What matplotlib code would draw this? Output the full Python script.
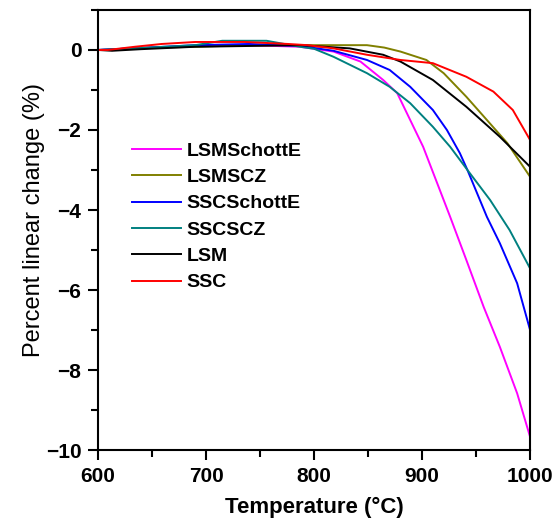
import matplotlib
matplotlib.use("Agg")
import matplotlib.pyplot as plt
from matplotlib.ticker import MultipleLocator

plt.rcParams["font.family"] = ["Liberation Sans", "DejaVu Sans"]

# temperature (°C) / linear change (%)
lsm_schott_t = [600, 640, 690, 740, 787, 818, 843, 864, 877, 889, 901, 910, 926, 941, 957, 972, 988, 1000]
lsm_schott_v = [0.0, 0.05, 0.1, 0.12, 0.08, -0.04, -0.29, -0.75, -1.08, -1.75, -2.42, -3.05, -4.17, -5.25, -6.42, -7.42, -8.58, -9.67]

lsm_scz_t = [600, 640, 690, 740, 787, 849, 865, 880, 904, 920, 941, 960, 979, 1000]
lsm_scz_v = [0.0, 0.05, 0.08, 0.12, 0.12, 0.12, 0.06, -0.04, -0.25, -0.58, -1.17, -1.75, -2.33, -3.17]

ssc_schott_t = [600, 640, 690, 740, 787, 818, 849, 870, 889, 910, 923, 935, 942, 960, 972, 988, 1000]
ssc_schott_v = [0.0, 0.05, 0.12, 0.15, 0.1, -0.02, -0.25, -0.5, -0.92, -1.5, -2.0, -2.58, -3.0, -4.17, -4.83, -5.83, -7.0]

ssc_scz_t = [600, 640, 690, 715, 756, 787, 800, 818, 849, 870, 889, 910, 926, 942, 963, 981, 1000]
ssc_scz_v = [0.0, 0.05, 0.12, 0.23, 0.23, 0.08, 0.03, -0.17, -0.58, -0.92, -1.33, -1.92, -2.42, -3.0, -3.75, -4.5, -5.46]

lsm_t = [600, 613, 640, 690, 740, 787, 833, 864, 880, 910, 941, 972, 1000]
lsm_v = [0.0, -0.02, 0.02, 0.08, 0.1, 0.12, 0.04, -0.12, -0.29, -0.75, -1.42, -2.17, -2.92]

ssc_t = [600, 609, 634, 659, 690, 736, 776, 794, 818, 849, 880, 910, 941, 966, 984, 1000]
ssc_v = [0.0, 0.0, 0.08, 0.15, 0.2, 0.2, 0.15, 0.12, 0.04, -0.12, -0.25, -0.33, -0.67, -1.04, -1.5, -2.25]

series = [
    ("LSMSchottE", lsm_schott_t, lsm_schott_v, "#ff00ff"),
    ("LSMSCZ", lsm_scz_t, lsm_scz_v, "#808000"),
    ("SSCSchottE", ssc_schott_t, ssc_schott_v, "#0000ff"),
    ("SSCSCZ", ssc_scz_t, ssc_scz_v, "#008080"),
    ("LSM", lsm_t, lsm_v, "#000000"),
    ("SSC", ssc_t, ssc_v, "#ff0000"),
]

fig = plt.figure(figsize=(5.58, 5.24), dpi=100)
ax = fig.add_axes([0.1756, 0.141, 0.7744, 0.840])

for label, t, v, c in series:
    ax.plot(t, v, color=c, lw=1.4, label=label)

ax.set_xlim(600, 1000)
ax.set_ylim(-10, 1)
ax.xaxis.set_major_locator(MultipleLocator(100))
ax.xaxis.set_minor_locator(MultipleLocator(50))
ax.yaxis.set_major_locator(MultipleLocator(2))
ax.yaxis.set_minor_locator(MultipleLocator(1))
ax.tick_params(which="major", direction="out", length=7, width=1.5, labelsize=15, pad=5)
ax.tick_params(which="minor", direction="out", length=5, width=1.5)
for lab in ax.get_xticklabels() + ax.get_yticklabels():
    lab.set_fontweight("bold")
for sp in ax.spines.values():
    sp.set_linewidth(1.5)

ax.set_ylabel("Percent linear change (%)", fontsize=17)
ax.yaxis.set_label_coords(-0.123, 0.523)
ax.set_xlabel("Temperature (°C)", fontsize=16, fontweight="bold", labelpad=8)

leg = ax.legend(loc="upper left", bbox_to_anchor=(0.079, 0.70), frameon=False,
                prop={"weight": "bold", "size": 14}, handlelength=2.5,
                labelspacing=0.45, handletextpad=0.3, borderpad=0,
                borderaxespad=0)

fig.savefig("out.png", dpi=100)
